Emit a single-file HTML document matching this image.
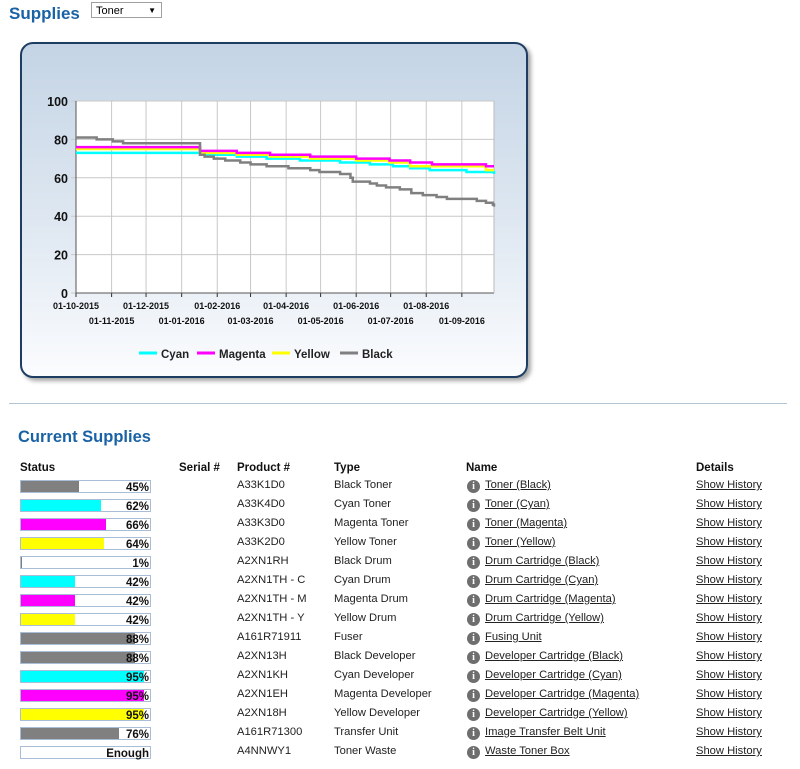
<!DOCTYPE html>
<html><head><meta charset="utf-8">
<style>
body{margin:0;width:800px;height:769px;background:#fff;font-family:"Liberation Sans",Arial,sans-serif;position:relative;overflow:hidden}
.abs{position:absolute}
h1{position:absolute;left:9px;top:4px;margin:0;font-size:17px;color:#1a62a6;font-weight:bold}
h2{position:absolute;left:18px;top:428px;margin:0;font-size:16.5px;color:#1a62a6;font-weight:bold}
.sel{position:absolute;left:91px;top:2px;height:16px;border:1px solid #a0a0a0;font-size:11px;line-height:16px;padding-left:4px;box-sizing:border-box;width:71px}
.panel{position:absolute;left:20px;top:42px;width:508px;height:336px;box-sizing:border-box;border:2px solid #1f3d62;border-radius:13px;background:linear-gradient(#c4d4e5,#e2eaf3 60%,#fbfcfe);box-shadow:3px 3px 4px rgba(0,0,0,.35)}
.sep{position:absolute;left:9px;top:403px;width:778px;height:1px;background:#b3c5d3}
.th{position:absolute;top:462px;font-size:11.5px;font-weight:bold;color:#111}
.cell{position:absolute;font-size:11.2px;color:#222;white-space:nowrap}
.bar{position:absolute;left:20px;width:131px;height:13px;box-sizing:border-box;border:1px solid #a9bdd6;background:#fff}
.bar .f{position:absolute;left:0;top:0;bottom:0}
.bar .p{position:absolute;right:1px;top:0;font-size:11.5px;font-weight:bold;line-height:14px;color:#111}
.info{position:absolute;left:467px;width:13px;height:13px;border-radius:50%;background:#6e6e6e;color:#fff;font-size:10px;font-weight:bold;text-align:center;line-height:13px;font-family:"Liberation Serif",serif}
a{color:#111;text-decoration:underline}
</style></head><body>
<h1>Supplies</h1>
<div class="sel">Toner<span style="position:absolute;right:5px;font-size:8px">▼</span></div>
<div class="panel"></div>
<svg class="abs" style="left:0;top:0" width="540" height="390" id="chart"></svg>
<div class="sep"></div>
<h2>Current Supplies</h2>
<div class="th" style="left:20px">Status</div>
<div class="th" style="left:179px">Serial #</div>
<div class="th" style="left:237px">Product #</div>
<div class="th" style="left:334px">Type</div>
<div class="th" style="left:466px">Name</div>
<div class="th" style="left:696px">Details</div>
<div id="rows"></div>
<script>
const categories=["01-10-2015","01-11-2015","01-12-2015","01-01-2016","01-02-2016","01-03-2016","01-04-2016","01-05-2016","01-06-2016","01-07-2016","01-08-2016","01-09-2016"];
const tickDays=[0,31,61,92,123,152,183,213,244,274,305,336];
const yTicks=[0,20,40,60,80,100];
const cyanDays=[0,108,140,166,195,230,256,276,291,308,340,364];
const cyanVals=[73,72,71,70,69,68,67,66,65,64,63,62];
const magentaDays=[0,108,140,169,204,244,273,291,310,357,364];
const magentaVals=[76,74,73,72,71,70,69,68,67,66,66];
const yellowDays=[0,108,140,169,204,244,273,291,357,364];
const yellowVals=[75,73,72,71,70,69,68,66,64,64];
const blackDays=[0,18,32,41,108,112,120,130,143,152,166,185,204,212,230,239,241,256,262,270,282,292,302,314,323,349,357,363,364];
const blackVals=[81,80,79,78,72,71,70,69,68,67,66,65,64,63,62,60,58,57,56,55,54,52,51,50,49,48,47,46,45];
const NS="http://www.w3.org/2000/svg";
const svg=document.getElementById('chart');
const X0=76,Y0=293,Y1=101,DMAX=364;
const PR=494;
function xs(d){return X0+(d/DMAX)*(PR-X0);}
function ys(v){return Y0-(v/100)*(Y0-Y1);}
function mk(t,a,p){const e=document.createElementNS(NS,t);for(const k in a)e.setAttribute(k,a[k]);(p||svg).appendChild(e);return e;}
const plot=mk('rect',{x:X0,y:Y1,width:PR-X0,height:Y0-Y1,fill:'#fff'});


yTicks.forEach(v=>{
  const l=mk('line',{x1:X0-5,x2:PR,y1:ys(v),y2:ys(v),stroke:'#c8c8c8','stroke-width':1});
  
  
  const t=mk('text',{x:X0-8,y:ys(v)+5,'text-anchor':'end','font-size':12.5,'font-weight':'bold',fill:'#111'});
  t.textContent=v;
  
  
});
tickDays.forEach((d,i)=>{
  const l=mk('line',{x1:xs(d),x2:xs(d),y1:Y1,y2:Y0+4,stroke:'#c8c8c8'});
  
  
  const tk=mk('line',{x1:xs(d),x2:xs(d),y1:Y0,y2:Y0+4,stroke:'#333'});
  
  
  const t=mk('text',{x:xs(d),y:i%2?324:309,'text-anchor':'middle','font-size':9,'font-weight':'bold',fill:'#111'});
  t.textContent=categories[i];
  
  
});
mk('line',{x1:X0,x2:PR,y1:Y0,y2:Y0,stroke:'#555'});
mk('line',{x1:X0,x2:X0,y1:Y1,y2:Y0,stroke:'#555'});
mk('line',{x1:PR,x2:PR,y1:Y1,y2:Y0,stroke:'#bbb'});
function step(days,vals){let p='';days.forEach((d,i)=>{p+=(i?'H'+xs(d)+'V':'M'+xs(d)+' ')+ys(vals[i]);});return p;}
const series=[["Cyan","#00ffff",cyanDays,cyanVals],["Yellow","#ffff00",yellowDays,yellowVals],["Magenta","#ff00ff",magentaDays,magentaVals],["Black","#808080",blackDays,blackVals]];
series.forEach(s=>{
  const p=mk('path',{d:step(s[2],s[3]),fill:'none',stroke:s[1],'stroke-width':2.5});
  
  
});
const legend=[["Cyan","#00ffff",139],["Magenta","#ff00ff",197],["Yellow","#ffff00",272],["Black","#808080",340]];
legend.forEach(l=>{
  const g=mk('g',{});
  
  
  mk('line',{x1:l[2],x2:l[2]+18,y1:353,y2:353,stroke:l[1],'stroke-width':3},g);
  const t=mk('text',{x:l[2]+22,y:358,'font-size':11.5,'font-weight':'bold',fill:'#222'},g);t.textContent=l[0];
});
const rows=[
["#808080",45,"45%","A33K1D0","Black Toner","Toner (Black)"],
["#00ffff",62,"62%","A33K4D0","Cyan Toner","Toner (Cyan)"],
["#ff00ff",66,"66%","A33K3D0","Magenta Toner","Toner (Magenta)"],
["#ffff00",64,"64%","A33K2D0","Yellow Toner","Toner (Yellow)"],
["#808080",1,"1%","A2XN1RH","Black Drum","Drum Cartridge (Black)"],
["#00ffff",42,"42%","A2XN1TH - C","Cyan Drum","Drum Cartridge (Cyan)"],
["#ff00ff",42,"42%","A2XN1TH - M","Magenta Drum","Drum Cartridge (Magenta)"],
["#ffff00",42,"42%","A2XN1TH - Y","Yellow Drum","Drum Cartridge (Yellow)"],
["#808080",88,"88%","A161R71911","Fuser","Fusing Unit"],
["#808080",88,"88%","A2XN13H","Black Developer","Developer Cartridge (Black)"],
["#00ffff",95,"95%","A2XN1KH","Cyan Developer","Developer Cartridge (Cyan)"],
["#ff00ff",95,"95%","A2XN1EH","Magenta Developer","Developer Cartridge (Magenta)"],
["#ffff00",95,"95%","A2XN18H","Yellow Developer","Developer Cartridge (Yellow)"],
["#808080",76,"76%","A161R71300","Transfer Unit","Image Transfer Belt Unit"],
["#808080",0,"Enough","A4NNWY1","Toner Waste","Waste Toner Box"]];
const box=document.getElementById('rows');
let h='';
rows.forEach((r,i)=>{
  const y=480+i*19;
  h+=`<div class="bar" style="top:${y}px"><div class="f" style="width:${r[1]*1.29}px;background:${r[0]}"></div><span class="p">${r[2]}</span></div>`;
  h+=`<div class="cell" style="left:237px;top:${y-1}px">${r[3]}</div>`;
  h+=`<div class="cell" style="left:334px;top:${y-1}px">${r[4]}</div>`;
  h+=`<div class="info" style="top:${y}px">i</div>`;
  h+=`<a class="cell" style="left:485px;top:${y-1}px">${r[5]}</a>`;
  h+=`<a class="cell" style="left:696px;top:${y-1}px">Show History</a>`;
});
box.innerHTML=h;
</script>
</body></html>
